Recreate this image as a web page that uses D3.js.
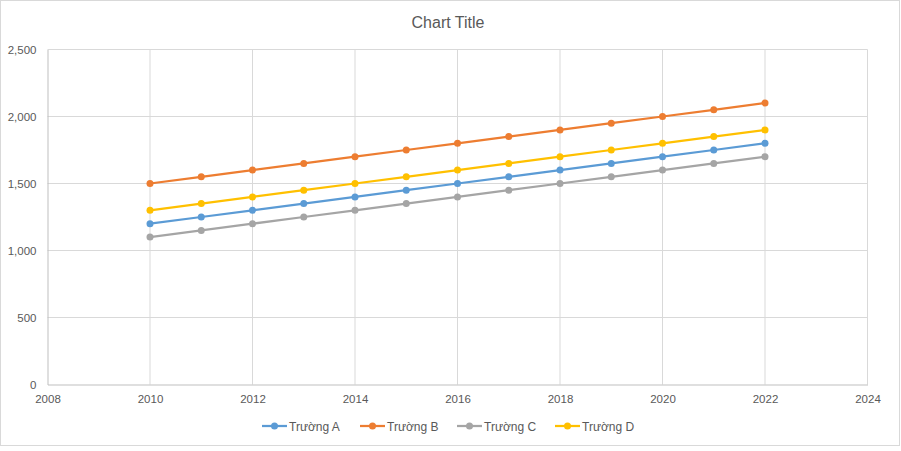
<!DOCTYPE html>
<html><head><meta charset="utf-8">
<script src="https://cdn.jsdelivr.net/npm/d3@7"></script>
<style>body{margin:0;background:#fff;}svg{display:block;font-family:"Liberation Sans",Arial,sans-serif;}</style>
</head><body>
<svg id="c" width="901" height="451"></svg>
<script>
const years = [2010,2011,2012,2013,2014,2015,2016,2017,2018,2019,2020,2021,2022];
const truongA = [1200,1250,1300,1350,1400,1450,1500,1550,1600,1650,1700,1750,1800];
const truongB = [1500,1550,1600,1650,1700,1750,1800,1850,1900,1950,2000,2050,2100];
const truongC = [1100,1150,1200,1250,1300,1350,1400,1450,1500,1550,1600,1650,1700];
const truongD = [1300,1350,1400,1450,1500,1550,1600,1650,1700,1750,1800,1850,1900];
const seriesNames = ["Trường A","Trường B","Trường C","Trường D"];
const colors = ["#5b9bd5","#ed7d31","#a5a5a5","#ffc000"];
const xTicks = [2008,2010,2012,2014,2016,2018,2020,2022,2024];
const yTicks = [0,500,1000,1500,2000,2500];
const title = "Chart Title";

const svg = d3.select("#c");
svg.append("rect").attr("x",0.5).attr("y",0.5).attr("width",899).attr("height",445)
  .attr("fill","#fff").attr("stroke","#d9d9d9");

const x = d3.scaleLinear().domain([2008,2024]).range([47.5,867.5]);
const y = d3.scaleLinear().domain([0,2500]).range([384.5,49.5]);

// gridlines
svg.append("g").selectAll("line").data(yTicks.slice(1)).join("line")
  .attr("x1",x(2008)).attr("x2",x(2024)).attr("y1",d=>y(d)).attr("y2",d=>y(d))
  .attr("stroke","#d9d9d9").attr("stroke-width",1);
svg.append("g").selectAll("line").data(xTicks.slice(1)).join("line")
  .attr("x1",d=>x(d)).attr("x2",d=>x(d)).attr("y1",y(0)).attr("y2",y(2500))
  .attr("stroke","#d9d9d9").attr("stroke-width",1);

// axes
const xAxis = d3.axisBottom(x).tickValues(xTicks).tickFormat(d3.format("d")).tickSize(0).tickPadding(10);
const gx = svg.append("g").attr("transform",`translate(0,${y(0)})`).call(xAxis);
gx.select(".domain").attr("stroke","#bfbfbf");
gx.selectAll("text").attr("fill","#595959").attr("font-size","11.5px");

const yAxis = d3.axisLeft(y).tickValues(yTicks).tickFormat(d3.format(",")).tickSize(0).tickPadding(11);
const gy = svg.append("g").attr("transform",`translate(${x(2008)},0)`).call(yAxis);
gy.select(".domain").attr("stroke","#bfbfbf");
gy.selectAll("text").attr("fill","#595959").attr("font-size","11.5px");

// title
svg.append("text").attr("x",448).attr("y",28).attr("text-anchor","middle")
  .attr("fill","#595959").attr("font-size","16px").text(title);

// series
const allSeries = [truongA,truongB,truongC,truongD];
const line = d3.line().x((d,i)=>x(years[i])).y(d=>y(d));
allSeries.forEach((vals,k)=>{
  const g = svg.append("g");
  g.append("path").datum(vals).attr("d",line).attr("fill","none")
    .attr("stroke",colors[k]).attr("stroke-width",2.25).attr("stroke-linejoin","round");
  g.selectAll("circle").data(vals).join("circle")
    .attr("cx",(d,i)=>x(years[i])).attr("cy",d=>y(d)).attr("r",3.5).attr("fill",colors[k]);
});

// legend
const legX = [262,360,457,555];
const lg = svg.append("g");
seriesNames.forEach((n,k)=>{
  const g = lg.append("g").attr("transform",`translate(${legX[k]},426)`);
  g.append("line").attr("x1",0).attr("x2",25).attr("stroke",colors[k]).attr("stroke-width",2.25);
  g.append("circle").attr("cx",12.5).attr("r",3.5).attr("fill",colors[k]);
  g.append("text").attr("x",27).attr("y",4.5).attr("fill","#595959").attr("font-size","12px").text(n);
});
</script>
</body></html>
